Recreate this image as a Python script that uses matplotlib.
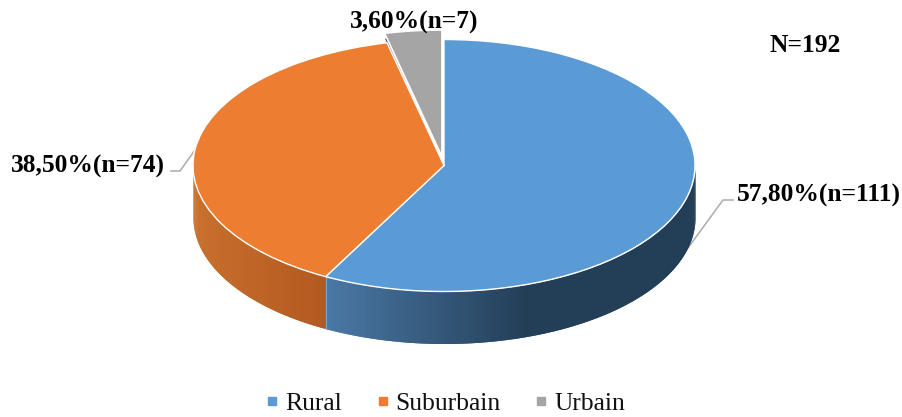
import numpy as np
import matplotlib
matplotlib.use("Agg")
import matplotlib.pyplot as plt
from matplotlib.colors import to_rgb
from matplotlib.lines import Line2D

categories = ["Rural", "Suburbain", "Urbain"]
counts = [111, 74, 7]
labels = ["57,80%(n=111)", "38,50%(n=74)", "3,60%(n=7)"]
colors = ["#5B9BD5", "#ED7D31", "#A5A5A5"]
total_label = "N=192"
explode = [0, 0, 0.075]

W, H = 902, 417
CX, CY, RX, RY, DEPTH = 444, 165.5, 251, 126, 52

plt.rcParams["font.family"] = ["Liberation Serif", "DejaVu Serif"]
fig = plt.figure(figsize=(W / 100, H / 100), dpi=100)
ax = fig.add_axes([0, 0, 1, 1])


def px(x, y):
    return (x - CX) / RX, (CY - y) / RY


wedges, _ = ax.pie(counts, colors=colors, startangle=90, counterclock=False,
                   explode=explode, radius=1, center=(0, 0),
                   wedgeprops=dict(edgecolor="white", linewidth=1.0, zorder=5))
ax.set_aspect("auto")
ax.set_xlim(px(0, 0)[0], px(W, 0)[0])
ax.set_ylim(px(0, H)[1], px(0, 0)[1])
ax.axis("off")

# extruded side, built from the slice angles
depth = DEPTH / RY
fractions = np.array(counts) / sum(counts)
edges = np.concatenate([[0], np.cumsum(fractions)]) * 2 * np.pi  # clockwise from 12 o'clock


def side(t0, t1, c_from, c_to, x_from, x_to):
    ts = np.linspace(t0, t1, 120)
    step = ts[1] - ts[0]
    for a, b in zip(ts[:-1], ts[1:]):
        t = np.linspace(a, min(b + step, t1), 4)
        x, y = np.sin(t), np.cos(t)
        f = np.clip(((np.sin(a) * RX + CX) - x_from) / (x_to - x_from), 0, 1)
        col = np.array(to_rgb(c_from)) * (1 - f) + np.array(to_rgb(c_to)) * f
        ax.fill_between(x, y, y - depth, color=col, linewidth=0, zorder=2)


side(np.pi / 2, edges[1], "#233E57", "#4A79A6", 530, 326)
side(edges[1], 1.5 * np.pi, "#B25A20", "#C8702D", 326, 193)
sep = np.sin(edges[1]), np.cos(edges[1])
ax.plot([sep[0], sep[0]], [sep[1], sep[1] - depth], color="#7FA3C4", lw=0.8, zorder=3)

# dark inner face of the pulled-out slice
mid = (edges[2] + edges[3]) / 2
ox, oy = explode[2] * np.sin(mid), explode[2] * np.cos(mid)
ax.plot([np.sin(edges[2]) + ox + 0.004, ox - 0.004],
        [np.cos(edges[2]) + oy - 0.045, oy - 0.04],
        color="#555555", lw=0.9, zorder=4.5)

# leader lines
for pts in ([(688, 248), (723, 200), (733, 200)], [(171, 171), (180, 171), (195, 150)]):
    xy = np.array([px(*p) for p in pts])
    ax.plot(xy[:, 0], xy[:, 1], color="#ABABAB", lw=1.1, zorder=1)

# data labels and total
fs = 18.4
txt = dict(fontsize=fs, fontweight="bold", color="black", ha="left", va="center")
ax.text(*px(737, 195), labels[0], **txt)
ax.text(*px(11, 166), labels[1], **txt)
ax.text(*px(350, 22), labels[2], zorder=6, **txt)
ax.text(*px(770, 46), total_label, **txt)

handles = [Line2D([], [], marker="s", linestyle="none", color=c, markersize=5.2) for c in colors]
fig.legend(handles, categories, loc="lower center", bbox_to_anchor=(0.493, -0.05), ncol=3,
           frameon=False, fontsize=18.4, handlelength=0.6, handletextpad=0.2,
           columnspacing=1.3, labelcolor="#111111")

fig.savefig("out.png", dpi=100)
